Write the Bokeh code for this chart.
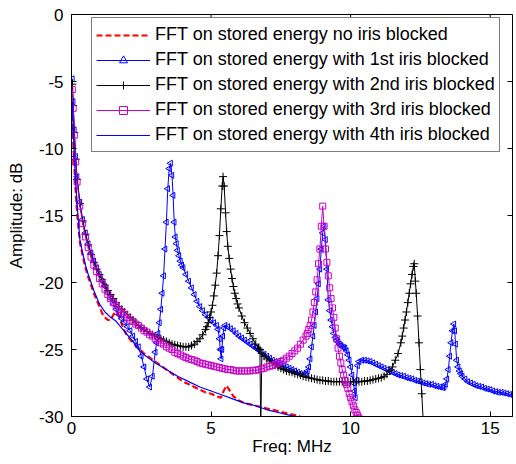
from bokeh.plotting import figure
from bokeh.models import FixedTicker, Range1d, Legend, LegendItem
from bokeh.embed import file_html
from bokeh.resources import INLINE
import numpy as np

# ---------------- data ----------------
x_none = [0.03, 0.06, 0.1, 0.15, 0.2, 0.3, 0.4, 0.5, 0.6, 0.7, 0.8, 0.9, 1.0, 1.1, 1.2, 1.3, 1.4, 1.5,
          1.6, 1.7, 1.8, 1.9, 2.0, 2.2, 2.4, 2.6, 2.8, 3.0, 3.2, 3.4, 3.6, 3.8, 4.0, 4.2, 4.4, 4.6, 4.8,
          5.0, 5.2, 5.35, 5.45, 5.55, 5.65, 5.8, 6.0, 6.2, 6.4, 6.6, 6.8, 7.0, 7.2, 7.4, 7.6, 7.8, 8.0, 8.2]
y_none = [-7.5, -9.5, -11.3, -13.2, -14.8, -17.0, -18.0, -18.9, -19.6, -20.2, -20.8, -21.3, -21.8, -22.3,
          -22.6, -22.8, -22.8, -22.4, -22.2, -22.5, -23.1, -23.6, -24.0, -24.5, -24.9, -25.3, -25.6, -25.9,
          -26.2, -26.5, -26.8, -27.1, -27.4, -27.6, -27.8, -28.0, -28.2, -28.3, -28.5, -28.6, -28.1, -27.7,
          -28.0, -28.5, -28.8, -29.0, -29.1, -29.2, -29.3, -29.4, -29.5, -29.6, -29.7, -29.8, -29.9, -30.0]

x_iris1 = [0.03, 0.06, 0.1, 0.15, 0.2, 0.3, 0.4, 0.5, 0.6, 0.7, 0.8, 0.9, 1.0, 1.1, 1.2, 1.3, 1.4, 1.5,
           1.6, 1.7, 1.8, 1.9, 2.0, 2.1, 2.2, 2.3, 2.4, 2.5, 2.6, 2.7, 2.8, 2.9, 3.0, 3.05, 3.1, 3.15,
           3.2, 3.25, 3.3, 3.35, 3.4, 3.45, 3.5, 3.55, 3.6, 3.64, 3.68, 3.72, 3.76, 3.8, 3.85, 3.9, 3.95,
           4.0, 4.1, 4.2, 4.3, 4.4, 4.5, 4.6, 4.7, 4.8, 4.9, 5.0, 5.1, 5.2, 5.25, 5.3, 5.33, 5.36, 5.39,
           5.42, 5.46, 5.5, 5.6, 5.7, 5.8, 5.9, 6.0, 6.1, 6.2, 6.3, 6.4, 6.5, 6.6, 6.7, 6.8, 6.9, 7.0,
           7.1, 7.2, 7.3, 7.4, 7.5, 7.6, 7.7, 7.8, 7.9, 8.0, 8.1, 8.2, 8.3, 8.4, 8.45, 8.5, 8.55, 8.6,
           8.65, 8.7, 8.75, 8.8, 8.85, 8.9, 8.95, 9.0, 9.05, 9.1, 9.15, 9.2, 9.25, 9.3, 9.35, 9.4, 9.45,
           9.5, 9.55, 9.6, 9.65, 9.7, 9.75, 9.8, 9.85, 9.9, 9.95, 10.0, 10.05, 10.1, 10.14, 10.17,
           10.21, 10.25, 10.3, 10.4, 10.5, 10.6, 10.7, 10.8, 10.9, 11.0, 11.1, 11.2, 11.3, 11.4, 11.5,
           11.6, 11.7, 11.8, 11.9, 12.0, 12.1, 12.2, 12.3, 12.4, 12.5, 12.6, 12.7, 12.8, 12.9, 13.0,
           13.1, 13.2, 13.3, 13.35, 13.4, 13.45, 13.5, 13.55, 13.6, 13.65, 13.7, 13.73, 13.76, 13.8,
           13.85, 13.9, 13.95, 14.0, 14.1, 14.2, 14.3, 14.4, 14.5, 14.6, 14.7, 14.8, 14.9, 15.0, 15.1,
           15.2, 15.3, 15.4, 15.5, 15.6, 15.7, 15.8]
y_iris1 = [-4.8, -6.5, -8.6, -10.6, -12.1, -14.0, -15.3, -16.3, -17.1, -17.8, -18.4, -18.9, -19.4, -19.9,
           -20.3, -20.8, -21.2, -21.6, -22.0, -22.4, -22.7, -23.0, -23.3, -23.6, -24.0, -24.4, -24.8,
           -25.5, -26.3, -27.2, -27.8, -27.0, -25.2, -24.5, -23.8, -23.0, -22.0, -20.8, -19.5, -17.5,
           -15.5, -13.0, -11.5, -11.1, -12.0, -13.5, -15.5, -16.6, -17.1, -17.6, -18.0, -18.4, -18.7,
           -18.9, -19.4, -19.9, -20.4, -20.9, -21.4, -21.8, -22.1, -22.4, -22.6, -22.8, -23.0, -23.2,
           -23.5, -24.2, -25.0, -25.7, -25.0, -24.0, -23.4, -23.2, -23.3, -23.45, -23.6, -23.8, -24.0,
           -24.15, -24.3, -24.45, -24.6, -24.75, -24.9, -25.05, -25.2, -25.35, -25.5, -25.65, -25.8,
           -25.9, -26.0, -26.1, -26.2, -26.3, -26.4, -26.5, -26.6, -26.7, -26.8, -26.85, -26.8, -26.6,
           -26.3, -25.7, -24.8, -24.0, -23.2, -22.2, -21.2, -20.1, -19.0, -17.5, -16.3, -15.8, -16.8,
           -19.0, -21.3, -22.1, -22.8, -23.3, -23.8, -24.1, -24.3, -24.45, -24.6, -24.7, -24.8, -24.85,
           -24.9, -25.1, -25.4, -25.8, -26.3, -26.9, -27.5, -28.1, -28.6, -27.3, -26.2, -25.9, -25.8,
           -25.8, -25.85, -25.9, -26.0, -26.1, -26.2, -26.3, -26.4, -26.5, -26.6, -26.7, -26.8, -26.9,
           -26.95, -27.0, -27.1, -27.15, -27.2, -27.3, -27.35, -27.4, -27.5, -27.55, -27.6, -27.6, -27.7,
           -27.75, -27.8, -27.85, -27.8, -27.6, -27.2, -26.5, -25.5, -24.5, -23.6, -23.1, -23.6, -24.6,
           -25.8, -26.3, -26.6, -26.8, -27.0, -27.2, -27.4, -27.5, -27.6, -27.7, -27.75, -27.8, -27.9,
           -27.95, -28.0, -28.1, -28.15, -28.2, -28.2, -28.25, -28.3, -28.35, -28.4]

x_iris2 = [0.03, 0.06, 0.1, 0.15, 0.2, 0.3, 0.4, 0.5, 0.6, 0.7, 0.8, 0.9, 1.0, 1.1, 1.2, 1.3, 1.4, 1.5,
           1.6, 1.7, 1.8, 1.9, 2.0, 2.1, 2.2, 2.3, 2.4, 2.5, 2.6, 2.7, 2.8, 2.9, 3.0, 3.1, 3.2, 3.3, 3.4,
           3.5, 3.6, 3.7, 3.8, 3.9, 4.0, 4.1, 4.2, 4.3, 4.4, 4.5, 4.6, 4.7, 4.8, 4.85, 4.9, 4.95, 5.0,
           5.05, 5.1, 5.15, 5.2, 5.25, 5.3, 5.35, 5.4, 5.43, 5.47, 5.52, 5.56, 5.6, 5.65, 5.7, 5.75, 5.8,
           5.85, 5.9, 5.95, 6.0, 6.1, 6.2, 6.3, 6.4, 6.5, 6.6, 6.7, 6.75, 6.78, 6.82, 6.9, 7.0, 7.1, 7.2,
           7.3, 7.4, 7.5, 7.6, 7.7, 7.8, 7.9, 8.0, 8.1, 8.2, 8.3, 8.4, 8.5, 8.6, 8.7, 8.8, 8.9, 9.0, 9.1,
           9.2, 9.3, 9.4, 9.5, 9.6, 9.7, 9.8, 9.9, 10.0, 10.1, 10.2, 10.3, 10.4, 10.5, 10.6, 10.7, 10.8,
           10.9, 11.0, 11.1, 11.2, 11.3, 11.4, 11.5, 11.6, 11.7, 11.8, 11.85, 11.9, 11.95, 12.0, 12.05,
           12.1, 12.15, 12.2, 12.25, 12.28, 12.32, 12.35, 12.4, 12.45, 12.5, 12.55, 12.6]
y_iris2 = [-5.2, -6.8, -8.8, -10.8, -12.3, -14.1, -15.4, -16.4, -17.2, -17.9, -18.5, -19.0, -19.4, -19.8,
           -20.2, -20.6, -20.9, -21.2, -21.5, -21.8, -22.0, -22.2, -22.4, -22.6, -22.8, -23.0, -23.2,
           -23.35, -23.5, -23.65, -23.8, -23.9, -24.0, -24.1, -24.2, -24.3, -24.4, -24.5, -24.6, -24.65,
           -24.7, -24.75, -24.8, -24.8, -24.8, -24.7, -24.6, -24.4, -24.2, -23.9, -23.5, -23.3, -23.0,
           -22.6, -22.2, -21.7, -21.0, -20.2, -19.3, -18.0, -16.5, -14.5, -12.8, -12.1, -12.8, -14.8,
           -16.2, -17.3, -18.2, -19.0, -19.7, -20.3, -20.8, -21.2, -21.6, -21.9, -22.5, -23.0, -23.4,
           -23.8, -24.2, -24.6, -24.9, -25.0, -31.0, -25.3, -25.5, -25.7, -25.85, -26.0, -26.15, -26.3,
           -26.4, -26.5, -26.6, -26.65, -26.7, -26.8, -26.85, -26.9, -27.0, -27.05, -27.1, -27.15, -27.2,
           -27.25, -27.3, -27.3, -27.35, -27.35, -27.4, -27.4, -27.4, -27.4, -27.4, -27.4, -27.4, -27.4,
           -27.4, -27.4, -27.4, -27.4, -27.35, -27.35, -27.3, -27.25, -27.2, -27.15, -27.1, -27.0,
           -26.85, -26.6, -26.3, -25.8, -25.3, -24.5, -24.0, -23.4, -22.8, -22.2, -21.5, -20.8, -20.1,
           -19.4, -18.8, -18.6, -19.9, -20.8, -22.5, -24.5, -26.5, -28.3, -30.3]

x_iris3 = [0.03, 0.06, 0.1, 0.15, 0.2, 0.3, 0.4, 0.5, 0.6, 0.7, 0.8, 0.9, 1.0, 1.1, 1.2, 1.3, 1.4, 1.5,
           1.6, 1.7, 1.8, 1.9, 2.0, 2.1, 2.2, 2.3, 2.4, 2.5, 2.6, 2.7, 2.8, 2.9, 3.0, 3.1, 3.2, 3.3, 3.4,
           3.5, 3.6, 3.7, 3.8, 3.9, 4.0, 4.1, 4.2, 4.3, 4.4, 4.5, 4.6, 4.7, 4.8, 4.9, 5.0, 5.1, 5.2, 5.3,
           5.4, 5.5, 5.6, 5.7, 5.8, 5.9, 6.0, 6.1, 6.2, 6.3, 6.4, 6.5, 6.6, 6.7, 6.8, 6.9, 7.0, 7.1, 7.2,
           7.3, 7.4, 7.5, 7.6, 7.7, 7.8, 7.9, 8.0, 8.1, 8.2, 8.3, 8.4, 8.45, 8.5, 8.55, 8.6, 8.65, 8.7,
           8.75, 8.8, 8.85, 8.9, 8.95, 9.0, 9.05, 9.1, 9.15, 9.2, 9.25, 9.3, 9.35, 9.4, 9.45, 9.5, 9.55,
           9.6, 9.65, 9.7, 9.75, 9.8, 9.85, 9.9, 9.95, 10.0, 10.05, 10.1, 10.15, 10.2, 10.25, 10.3]
y_iris3 = [-5.6, -7.0, -9.0, -11.0, -12.5, -14.3, -15.6, -16.6, -17.4, -18.1, -18.7, -19.2, -19.7, -20.1,
           -20.5, -20.9, -21.2, -21.5, -21.7, -22.0, -22.2, -22.4, -22.6, -22.8, -22.9, -23.1, -23.2,
           -23.4, -23.6, -23.7, -23.9, -24.0, -24.2, -24.3, -24.5, -24.6, -24.8, -24.9, -25.0, -25.2,
           -25.3, -25.4, -25.5, -25.6, -25.7, -25.75, -25.8, -25.9, -26.0, -26.05, -26.1, -26.15, -26.2,
           -26.25, -26.3, -26.35, -26.4, -26.45, -26.5, -26.5, -26.55, -26.6, -26.6, -26.6, -26.6, -26.6,
           -26.6, -26.55, -26.55, -26.5, -26.45, -26.4, -26.3, -26.25, -26.2, -26.1, -26.0, -25.9, -25.8,
           -25.65, -25.5, -25.3, -25.1, -24.9, -24.6, -24.3, -24.0, -23.8, -23.5, -23.2, -22.8, -22.2,
           -21.5, -20.7, -19.8, -18.6, -17.5, -15.8, -14.3, -15.8, -17.5, -18.5, -19.5, -20.4, -21.2,
           -21.9, -22.6, -23.4, -24.2, -24.9, -25.5, -26.0, -26.5, -26.9, -27.3, -27.6, -27.9, -28.3,
           -28.6, -28.9, -29.2, -29.5, -29.7, -29.9, -30.1]

x_iris4 = [0.03, 0.06, 0.1, 0.15, 0.2, 0.3, 0.4, 0.5, 0.6, 0.7, 0.8, 0.9, 1.0, 1.2, 1.4, 1.6, 1.8, 2.0,
           2.2, 2.4, 2.6, 2.8, 3.0, 3.4, 3.8, 4.2, 4.6, 5.0, 5.4, 5.8, 6.2, 6.6, 7.0, 7.4, 7.8, 8.05]
y_iris4 = [-6.5, -8.5, -10.5, -12.5, -14.2, -16.8, -17.8, -18.7, -19.4, -20.0, -20.6, -21.1, -21.6, -22.2,
           -22.6, -22.9, -23.4, -23.9, -24.4, -25.0, -25.4, -25.7, -26.0, -26.5, -27.0, -27.4, -27.8,
           -28.1, -28.4, -28.7, -29.0, -29.2, -29.5, -29.7, -29.9, -30.05]

series_labels = ["FFT on stored energy no iris blocked",
                 "FFT on stored energy with 1st iris blocked",
                 "FFT on stored energy with 2nd iris blocked",
                 "FFT on stored energy with 3rd iris blocked",
                 "FFT on stored energy with 4th iris blocked"]

x_ticks = [0, 5, 10, 15]
x_tick_labels = ["0", "5", "10", "15"]
y_ticks = [0, -5, -10, -15, -20, -25, -30]
y_tick_labels = ["0", "-5", "-10", "-15", "-20", "-25", "-30"]

x_label = "Freq: MHz"
y_label = "Amplitude: dB"

# ---------------- figure ----------------
FONT = "Liberation Sans"
X0, X1, Y0, Y1 = 0, 15.8, -30, 0
W, H = 513, 460
BL, BR, BT, BB = 71, 1, 14, 44
FW, FH = W - BL - BR, H - BT - BB
TICK = 5

p = figure(width=W, height=H, output_backend="svg", toolbar_location=None,
           x_range=Range1d(X0, X1), y_range=Range1d(Y0, Y1),
           min_border_left=BL, min_border_right=BR, min_border_top=BT, min_border_bottom=BB)
p.grid.visible = False
p.outline_line_color = "black"
p.outline_line_width = 1
p.background_fill_color = "white"
p.border_fill_color = "white"

BLUE = "#0000ff"
MAG = "#c800c8"

r0 = p.line(x_none, y_none, line_color="#ff0000", line_width=2.2, line_dash="6 3")

r1l = p.line(x_iris1, y_iris1, line_color=BLUE, line_width=1)
r1m = p.scatter(x_iris1, y_iris1, marker="triangle", size=6, angle=np.pi / 2,
                line_color=BLUE, fill_color=None, line_width=1)

r2l = p.line(x_iris2, y_iris2, line_color="black", line_width=1)
r2m = p.scatter(x_iris2, y_iris2, marker="cross", size=8, line_color="black", line_width=1)

r3l = p.line(x_iris3, y_iris3, line_color=MAG, line_width=1)
r3m = p.scatter(x_iris3, y_iris3, marker="square", size=6, line_color=MAG,
                fill_color=None, line_width=1)

r4 = p.line(x_iris4, y_iris4, line_color=BLUE, line_width=1.2)

# inward ticks on the top and right frame edges (MATLAB box style)
dy = TICK * (Y1 - Y0) / FH
dx = TICK * (X1 - X0) / FW
p.segment(x0=x_ticks, y0=[Y1] * len(x_ticks), x1=x_ticks, y1=[Y1 - dy] * len(x_ticks),
          line_color="black", line_width=1)
p.segment(x0=[X1] * len(y_ticks), y0=y_ticks, x1=[X1 - dx] * len(y_ticks), y1=y_ticks,
          line_color="black", line_width=1)

legend = Legend(items=[
    LegendItem(label=series_labels[0], renderers=[r0]),
    LegendItem(label=series_labels[1], renderers=[r1l, r1m]),
    LegendItem(label=series_labels[2], renderers=[r2l, r2m]),
    LegendItem(label=series_labels[3], renderers=[r3l, r3m]),
    LegendItem(label=series_labels[4], renderers=[r4]),
], location=(20, FH - 5 - 133))
legend.label_text_font = FONT
legend.label_text_font_size = "18px"
legend.label_text_color = "black"
legend.glyph_width = 54
legend.glyph_height = 20
legend.label_height = 25
legend.label_standoff = 5
legend.spacing = 0
legend.padding = 4
legend.margin = 0
legend.border_line_color = "black"
legend.border_line_width = 1
legend.background_fill_color = "white"
legend.background_fill_alpha = 1.0
p.add_layout(legend, "center")

# ---------------- axes ----------------
def style_axis(ax):
    ax.axis_line_color = "black"
    ax.major_tick_line_color = "black"
    ax.major_tick_in = TICK
    ax.major_tick_out = 0
    ax.minor_tick_line_color = None
    ax.major_label_text_font = FONT
    ax.major_label_text_font_size = "17px"
    ax.major_label_text_color = "black"
    ax.axis_label_text_font = FONT
    ax.axis_label_text_font_size = "17px"
    ax.axis_label_text_font_style = "normal"
    ax.axis_label_text_color = "black"

xax = p.xaxis[0]
xax.ticker = FixedTicker(ticks=x_ticks)
xax.major_label_overrides = dict(zip(x_ticks, x_tick_labels))
xax.axis_label = x_label
xax.major_label_standoff = 5
xax.axis_label_standoff = 0
style_axis(xax)

yax = p.yaxis[0]
yax.ticker = FixedTicker(ticks=y_ticks)
yax.major_label_overrides = dict(zip(y_ticks, y_tick_labels))
yax.axis_label = y_label
yax.major_label_standoff = 8
yax.axis_label_standoff = 10
style_axis(yax)

open("out.html", "w").write(file_html(p, INLINE))
